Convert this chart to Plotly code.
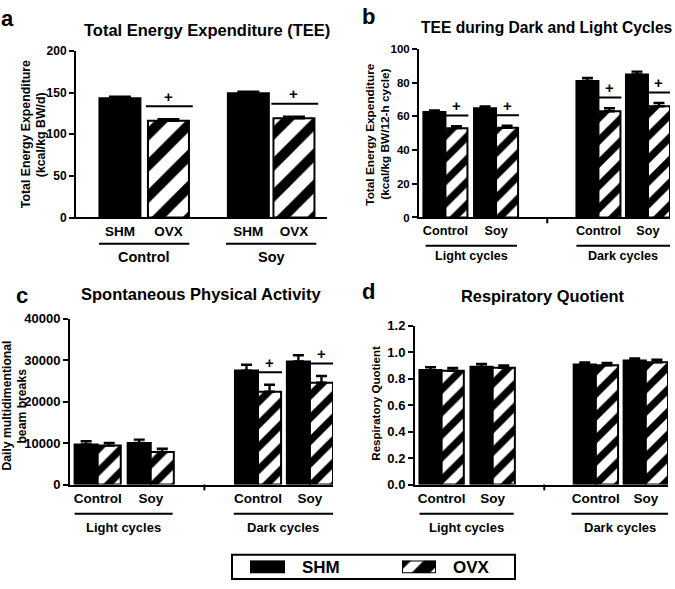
import plotly.graph_objects as go

# ---------------- data ----------------
# Panel a: Total Energy Expenditure (kcal/kg BW/d)
a_groups = ["Control", "Soy"]
a_bar_labels = ["SHM", "OVX"]
a_shm = [143, 149]
a_shm_err = [2, 2]
a_ovx = [116, 119]
a_ovx_err = [2, 2]
a_sig = [True, True]
a_yticks = [0, 50, 100, 150, 200]

# Panels b-d share categories
diet_labels = ["Control", "Soy", "Control", "Soy"]
cycle_labels = ["Light cycles", "Dark cycles"]

# Panel b: TEE during light / dark cycles (kcal/kg BW/12-h cycle)
b_shm = [62.5, 64.8, 81.0, 84.8]
b_shm_err = [1.0, 1.0, 1.7, 1.7]
b_ovx = [53.0, 53.2, 63.0, 66.0]
b_ovx_err = [1.2, 1.2, 1.8, 1.9]
b_sig = [True, True, True, True]
b_yticks = [0, 20, 40, 60, 80, 100]

# Panel c: Spontaneous physical activity (beam breaks)
c_shm = [9650, 10050, 27500, 29700]
c_shm_err = [800, 780, 1400, 1500]
c_ovx = [9400, 7850, 22400, 24600]
c_ovx_err = [650, 780, 1700, 1600]
c_sig = [False, False, True, True]
c_yticks = [0, 10000, 20000, 30000, 40000]

# Panel d: Respiratory quotient
d_shm = [0.865, 0.889, 0.906, 0.936]
d_shm_err = [0.022, 0.022, 0.017, 0.017]
d_ovx = [0.860, 0.882, 0.901, 0.923]
d_ovx_err = [0.020, 0.018, 0.017, 0.020]
d_sig = [False, False, False, False]
d_yticks = [0, 0.2, 0.4, 0.6, 0.8, 1.0, 1.2]

legend_labels = ["SHM", "OVX"]

# ---------------- layout helpers ----------------
W, H = 675, 589
FONT = "Liberation Sans, Arial, sans-serif"


def fx(p):
    return p / W


def fy(p):
    return 1 - p / H


fig = go.Figure()
shapes = []
annotations = []

# a: bar positions (units of one bar width)
a_shm_x = [1.05, 4.12]
a_ovx_x = [2.21, 5.21]
P = [1.2, 3.5, 8.15, 10.4]   # pair centres for panels b-d
bd_shm_x = [p - 0.5 for p in P]
bd_ovx_x = [p + 0.5 for p in P]

panels = [
    dict(key="a", n=1, xd=(76, 327), yd=(216, 45), xr=(0, 6), ymax=200,
         shm=a_shm, shm_err=a_shm_err, ovx=a_ovx, ovx_err=a_ovx_err, sig=a_sig, sig_off=0.078,
         shm_x=a_shm_x, ovx_x=a_ovx_x, width=0.98, cap=11, psize=22,
         tickvals=a_shm_x + a_ovx_x, ticktext=[a_bar_labels[0]] * 2 + [a_bar_labels[1]] * 2,
         xtick_size=13.5, ytick_size=12, yticks=a_yticks, yfmt="d",
         title="Total Energy Expenditure (TEE)", title_xy=(207, 24), title_size=16.5,
         letter_xy=(7, 12),
         ytitle=["Total Energy Expenditure", "(kcal/kg BW/d)"], ytitle_size=12.3,
         ytitle_x=[25.5, 40.5], ytitle_y=131,
         groups=a_groups,
         group_spans=[((a_shm_x[0] + a_ovx_x[0]) / 2 - 1.08, (a_shm_x[0] + a_ovx_x[0]) / 2 + 1.08),
                      ((a_shm_x[1] + a_ovx_x[1]) / 2 - 1.08, (a_shm_x[1] + a_ovx_x[1]) / 2 + 1.08)],
         gline_y=243, glabel_y=257, glabel_size=14.5, gap=None),
    dict(key="b", n=2, xd=(419, 670), yd=(216, 43), xr=(0, 11.4), ymax=100,
         shm=b_shm, shm_err=b_shm_err, ovx=b_ovx, ovx_err=b_ovx_err, sig=b_sig, sig_off=0.063,
         shm_x=bd_shm_x, ovx_x=bd_ovx_x, width=1.0, cap=5.5, psize=16,
         tickvals=P, ticktext=diet_labels,
         xtick_size=12.7, ytick_size=11.5, yticks=b_yticks, yfmt="d",
         title="TEE during Dark and Light Cycles", title_xy=(547, 21), title_size=15.6,
         letter_xy=(368, 10),
         ytitle=["Total Energy Expenditure", "(kcal/kg BW/12-h cycle)"], ytitle_size=11.8,
         ytitle_x=[370, 385], ytitle_y=131,
         groups=cycle_labels, group_spans=[(P[0] - 0.9, P[1] + 0.95), (P[2] - 1.0, P[3] + 1.0)],
         gline_y=245, glabel_y=256, glabel_size=12.6, gap=5.825),
    dict(key="c", n=3, xd=(70, 333), yd=(490, 320), xr=(0, 11.4), ymax=40000,
         shm=c_shm, shm_err=c_shm_err, ovx=c_ovx, ovx_err=c_ovx_err, sig=c_sig, sig_off=0.075,
         shm_x=bd_shm_x, ovx_x=bd_ovx_x, width=1.0, cap=5.5, psize=16,
         tickvals=P, ticktext=diet_labels,
         xtick_size=13.5, ytick_size=13, yticks=c_yticks, yfmt="d",
         title="Spontaneous Physical Activity", title_xy=(201, 294), title_size=16.5,
         letter_xy=(22, 296),
         ytitle=["Daily multidimentional", "beam breaks"], ytitle_size=12.2,
         ytitle_x=[7, 22], ytitle_y=409,
         groups=cycle_labels, group_spans=[(P[0] - 1.0, P[1] + 0.95), (P[2] - 1.05, P[3] + 1.0)],
         gline_y=520, glabel_y=534, glabel_size=13, gap=5.825),
    dict(key="d", n=4, xd=(415, 668), yd=(490, 327), xr=(0, 11.4), ymax=1.2,
         shm=d_shm, shm_err=d_shm_err, ovx=d_ovx, ovx_err=d_ovx_err, sig=d_sig, sig_off=0.07,
         shm_x=bd_shm_x, ovx_x=bd_ovx_x, width=1.0, cap=5.5, psize=16,
         tickvals=P, ticktext=diet_labels,
         xtick_size=13.5, ytick_size=13, yticks=d_yticks, yfmt=".1f",
         title="Respiratory Quotient", title_xy=(543, 297), title_size=16.4,
         letter_xy=(368, 292),
         ytitle=["Respiratory Quotient"], ytitle_size=11.5, ytitle_x=[376], ytitle_y=407,
         groups=cycle_labels, group_spans=[(P[0] - 1.0, P[1] + 0.95), (P[2] - 1.1, P[3] + 1.0)],
         gline_y=520, glabel_y=534, glabel_size=13, gap=5.825),
]

for pn in panels:
    n = pn["n"]
    xa, ya = f"x{n}", f"y{n}"
    fig.add_trace(go.Bar(
        x=pn["shm_x"], y=pn["shm"], width=pn["width"], name=legend_labels[0],
        xaxis=xa, yaxis=ya, showlegend=False,
        marker=dict(color="black", line=dict(color="black", width=2)),
        error_y=dict(type="data", symmetric=False, array=pn["shm_err"],
                     arrayminus=[0] * len(pn["shm"]), color="black",
                     thickness=2.4, width=pn["cap"]),
    ))
    fig.add_trace(go.Bar(
        x=pn["ovx_x"], y=pn["ovx"], width=pn["width"], name=legend_labels[1],
        xaxis=xa, yaxis=ya, showlegend=False,
        marker=dict(color="white", line=dict(color="black", width=2),
                    pattern=dict(shape="/", fgcolor="black", bgcolor="white", fgopacity=1,
                                 fillmode="replace", size=pn["psize"], solidity=0.45)),
        error_y=dict(type="data", symmetric=False, array=pn["ovx_err"],
                     arrayminus=[0] * len(pn["ovx"]), color="black",
                     thickness=2.4, width=pn["cap"]),
    ))

    sfx = "" if n == 1 else str(n)
    fig.update_layout(**{
        f"xaxis{sfx}": dict(
            domain=[fx(pn["xd"][0]), fx(pn["xd"][1])], range=list(pn["xr"]),
            anchor=ya, showline=True, linecolor="black", linewidth=2,
            ticks="", tickvals=pn["tickvals"], ticktext=pn["ticktext"],
            tickfont=dict(size=pn["xtick_size"], color="black"),
            showgrid=False, zeroline=False, fixedrange=True),
        f"yaxis{sfx}": dict(
            domain=[fy(pn["yd"][0]), fy(pn["yd"][1])], range=[0, pn["ymax"]],
            anchor=xa, showline=True, linecolor="black", linewidth=2,
            ticks="outside", ticklen=5, tickwidth=2, tickcolor="black",
            tickvals=pn["yticks"], tickformat=pn["yfmt"],
            tickfont=dict(size=pn["ytick_size"], color="black"),
            showgrid=False, zeroline=False, fixedrange=True),
    })

    # y-axis title lines (placed as in the source figure)
    for line, lx in zip(pn["ytitle"], pn["ytitle_x"]):
        annotations.append(dict(text=line, xref="paper", yref="paper",
                                x=fx(lx), y=fy(pn["ytitle_y"]),
                                xanchor="center", yanchor="middle", textangle=-90,
                                showarrow=False, font=dict(size=pn["ytitle_size"])))

    # panel title and letter
    annotations.append(dict(text=pn["title"], xref="paper", yref="paper",
                            x=fx(pn["title_xy"][0]), y=fy(pn["title_xy"][1]),
                            xanchor="center", yanchor="middle", showarrow=False,
                            font=dict(size=pn["title_size"])))
    annotations.append(dict(text=pn["key"], xref="paper", yref="paper",
                            x=fx(pn["letter_xy"][0]), y=fy(pn["letter_xy"][1]),
                            xanchor="center", yanchor="middle", showarrow=False,
                            font=dict(size=22)))

    # significance markers
    for i, s in enumerate(pn["sig"]):
        if not s:
            continue
        top = pn["ovx"][i] + pn["ovx_err"][i] + pn["sig_off"] * pn["ymax"]
        xo = pn["ovx_x"][i]
        half = 0.54 if n == 1 else 0.5
        shapes.append(dict(type="line", xref=xa, yref=ya, x0=xo - half, x1=xo + half + 0.04,
                           y0=top, y1=top, line=dict(color="black", width=2)))
        annotations.append(dict(text="+", xref=xa, yref=ya, x=xo, y=top,
                                yshift=10, xanchor="center", yanchor="middle",
                                showarrow=False, font=dict(size=15)))

    # second-level group labels
    for lab, (x0, x1) in zip(pn["groups"], pn["group_spans"]):
        shapes.append(dict(type="line", xref=xa, yref="paper", x0=x0, x1=x1,
                           y0=fy(pn["gline_y"]), y1=fy(pn["gline_y"]),
                           line=dict(color="black", width=2)))
        annotations.append(dict(text=lab, xref=xa, yref="paper", x=(x0 + x1) / 2,
                                y=fy(pn["glabel_y"]), xanchor="center", yanchor="middle",
                                showarrow=False, font=dict(size=pn["glabel_size"])))

    # axis break tick between light and dark cycles
    if pn["gap"] is not None:
        shapes.append(dict(type="line", xref=xa, yref="paper", x0=pn["gap"], x1=pn["gap"],
                           y0=fy(pn["yd"][0]), y1=fy(pn["yd"][0] + 6),
                           line=dict(color="black", width=2)))

# ---------------- legend (boxed key) ----------------
shapes.append(dict(type="rect", xref="paper", yref="paper", layer="below",
                   x0=fx(232), x1=fx(515), y0=fy(587), y1=fy(562),
                   line=dict(color="black", width=2), fillcolor="white"))
swatches = [(5, (250, 285), legend_labels[0], 300), (6, (402, 436), legend_labels[1], 451)]
for k, (n, (l, r), lab, tx) in enumerate(swatches):
    marker = (dict(color="black", line=dict(color="black", width=2)) if k == 0 else
              dict(color="white", line=dict(color="black", width=2),
                   pattern=dict(shape="/", fgcolor="black", bgcolor="white", fgopacity=1,
                                fillmode="replace", size=22, solidity=0.6)))
    fig.add_trace(go.Bar(x=[lab], y=[1], width=1, name=lab, xaxis=f"x{n}", yaxis=f"y{n}",
                         showlegend=False, marker=marker, hoverinfo="skip"))
    fig.update_layout(**{
        f"xaxis{n}": dict(domain=[fx(l), fx(r)], anchor=f"y{n}", visible=False,
                          range=[-0.5, 0.5], fixedrange=True),
        f"yaxis{n}": dict(domain=[fy(581), fy(568)], anchor=f"x{n}", visible=False,
                          range=[0, 1], fixedrange=True),
    })
    annotations.append(dict(text=lab, xref="paper", yref="paper", x=fx(tx), y=fy(575),
                            xanchor="left", yanchor="middle", showarrow=False,
                            font=dict(size=17)))

fig.update_layout(
    width=W, height=H, margin=dict(l=0, r=0, t=0, b=0),
    paper_bgcolor="white", plot_bgcolor="white",
    barmode="overlay", showlegend=False,
    font=dict(family=FONT, color="black", weight="bold"),
    shapes=shapes, annotations=annotations,
)

fig.write_html("out.html", config={"displayModeBar": False},
               post_script="document.body.style.margin='0';document.body.style.overflow='hidden';")
